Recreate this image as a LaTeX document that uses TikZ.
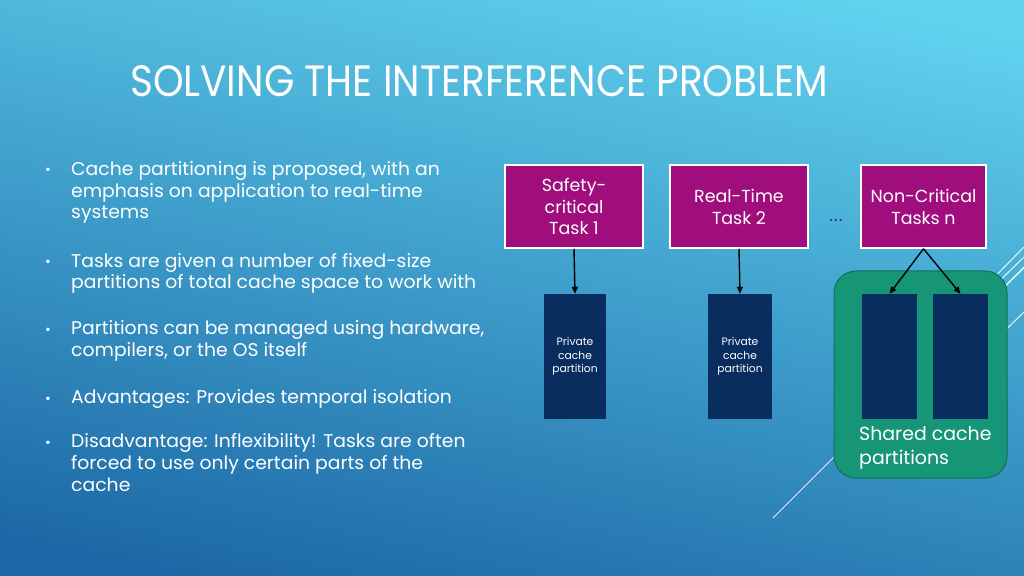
\documentclass[tikz,border=0pt]{standalone}
\usepackage{fontspec}
\setmainfont{Poppins}
\newfontfamily\titlefont[FakeStretch=0.89]{Poppins}
\newfontfamily\bodyfont[FakeStretch=1.02]{Poppins}
\usetikzlibrary{arrows.meta}
\definecolor{bgtop}{RGB}{96,210,238}
\definecolor{bgbot}{RGB}{28,104,166}
\definecolor{taskmag}{RGB}{160,14,126}
\definecolor{cachenavy}{RGB}{9,45,95}
\definecolor{sharedgreen}{RGB}{22,150,118}
\definecolor{sharedborder}{RGB}{18,112,88}
\definecolor{dotsnavy}{RGB}{40,40,140}
\tikzset{
  task/.style={draw=white, line width=1.5bp, fill=taskmag, text=white, align=center,
    font=\fontsize{17.5}{22}\selectfont, inner sep=0pt},
  cachebox/.style={fill=cachenavy, text=white, align=center,
    font=\fontsize{10.8}{13.5}\selectfont, inner sep=0pt, minimum height=125bp},
  link/.style={-{Triangle[length=7bp,width=6bp]}, black, line width=1.4bp},
  deco/.style={white, line width=1bp, opacity=0.85},
  bullettext/.style={anchor=base west, text=white, align=left, inner sep=0pt,
    font=\bodyfont\fontsize{18.5}{22}\selectfont},
  bulletdot/.style={anchor=base, text=white, inner sep=0pt, font=\fontsize{14}{22}\selectfont},
}
\begin{document}
\begin{tikzpicture}[x=1bp,y=-1bp]
\useasboundingbox (0,0) rectangle (1024,576);
\shade[top color=bgtop, bottom color=bgbot, shading angle=-12] (-40,-20) rectangle (1064,596);
% decorative lines
\draw[deco] (773,518) -- (1024,267);
\draw[deco] (975,297) -- (1024,247);
\draw[deco] (975,305) -- (1024,257);
\draw[deco] (975,315) -- (1024,268);
\draw[deco] (980,355) -- (1024,312);
% title
\node[anchor=base west, text=white, inner sep=0pt, font=\titlefont\fontsize{44}{44}\selectfont] (title) at (130,97) {SOLVING THE INTERFERENCE PROBLEM};
% bullets (anchor = baseline of last line)
\node[bulletdot] (d1) at (48,175) {•};
\node[bullettext] (b1) at (71,219) {Cache partitioning is proposed, with an\\emphasis on application to real-time\\systems};
\node[bulletdot] (d2) at (48,267) {•};
\node[bullettext] (b2) at (71,289) {Tasks are given a number of fixed-size\\partitions of total cache space to work with};
\node[bulletdot] (d3) at (48,334) {•};
\node[bullettext] (b3) at (71,356) {Partitions can be managed using hardware,\\compilers, or the OS itself};
\node[bulletdot] (d4) at (48,403) {•};
\node[bullettext] (b4) at (71,403) {Advantages: Provides temporal isolation};
\node[bulletdot] (d5) at (48,447) {•};
\node[bullettext] (b5) at (71,491) {Disadvantage: Inflexibility! Tasks are often\\forced to use only certain parts of the\\cache};
% tasks
\node[task, minimum width=138bp, minimum height=83bp] (t1) at (574,206.5) {Safety-\\critical\\Task 1};
\node[task, minimum width=138bp, minimum height=83bp] (t2) at (739,206.5) {Real-Time\\Task 2};
\node[task, minimum width=125bp, minimum height=83bp] (t3) at (923.5,206.5) {Non-Critical\\Tasks n};
\node[text=dotsnavy, inner sep=0pt, font=\fontsize{17}{17}\selectfont] (dots) at (836,221) {.\kern1.2bp.\kern1.2bp.};
% shared group
\node[fill=sharedgreen, draw=sharedborder, line width=1bp, rounded corners=22bp,
  minimum width=173bp, minimum height=207bp, inner sep=0pt] (shared) at (920.5,374.5) {};
\node[anchor=north west, text=white, align=left, inner sep=0pt,
  font=\fontsize{19}{24}\selectfont] (sharedlabel) at (859,426) {Shared cache\\partitions};
% cache partitions
\node[cachebox, minimum width=62bp] (pa) at (575,356.5) {Private\\cache\\partition};
\node[cachebox, minimum width=64bp] (pb) at (740,356.5) {Private\\cache\\partition};
\node[cachebox, minimum width=55bp] (pc) at (889.5,356.5) {};
\node[cachebox, minimum width=55bp] (pd) at (960.5,356.5) {};
% arrows
\draw[link] (t1.south) -- (pa.north);
\draw[link] (t2.south) -- (pb.north);
\draw[link] (t3.south) -- (pc.north);
\draw[link] (t3.south) -- (pd.north);
\end{tikzpicture}
\end{document}
